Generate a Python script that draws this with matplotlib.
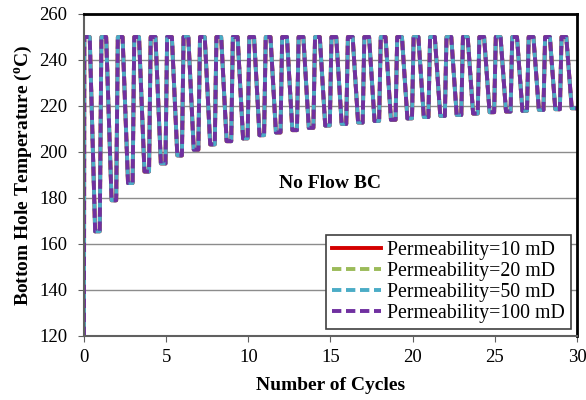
import numpy as np
import matplotlib
matplotlib.use("Agg")
import matplotlib.pyplot as plt

# values
n_cycles = 30
start_temp = 120.0
peak_temp = 250.0
# minimum bottom hole temperature reached at the end of each cycle (1..30)
cycle_minima = [165.5, 179.0, 186.5, 191.5, 195.0, 198.5, 201.0, 203.3, 204.7, 205.9,
                207.3, 208.5, 209.5, 210.5, 211.5, 212.2, 212.8, 213.5, 214.0, 214.6,
                215.2, 215.7, 216.1, 216.7, 217.3, 217.6, 217.9, 218.3, 218.6, 219.0]
labels = ["Permeability=10 mD", "Permeability=20 mD",
          "Permeability=50 mD", "Permeability=100 mD"]
colors = ["#D40000", "#9BBB59", "#4BACC6", "#7030A0"]

# shape of one cycle: (phase, 'top' or 'bottom')
profile = [(0.06, "top"), (0.35, "top"), (0.68, "bottom"), (0.96, "bottom")]


def build_curve():
    t = [0.0, 0.02]
    T = [start_temp, peak_temp]
    for n, m in enumerate(cycle_minima):
        for ph, kind in profile:
            t.append(n + ph)
            T.append(peak_temp if kind == "top" else m)
    t.append(n_cycles)
    T.append(cycle_minima[-1])
    return np.array(t), np.array(T)


plt.rcParams['font.family'] = ['Liberation Serif', 'DejaVu Serif']
plt.rcParams['mathtext.fontset'] = 'custom'
plt.rcParams['mathtext.rm'] = 'Liberation Serif'
plt.rcParams['mathtext.bf'] = 'Liberation Serif:bold'

fig = plt.figure(figsize=(5.86, 4.0), dpi=100)
ax = fig.add_axes([0.1433, 0.16, 0.8413, 0.805])

t, T = build_curve()
styles = [dict(linestyle='-'),
          dict(linestyle=(0.0, (2.4, 1.2))),
          dict(linestyle=(1.8, (2.4, 1.2))),
          dict(linestyle=(0.0, (2.4, 1.2)))]
for lab, col, st in zip(labels, colors, styles):
    ax.plot(t, T, color=col, linewidth=2.8, label=lab,
            solid_joinstyle='round', dash_joinstyle='round',
            dash_capstyle='butt', **st)

ax.set_xlim(0, 30)
ax.set_ylim(120, 260)
ax.set_xticks(np.arange(0, 31, 5))
ax.set_yticks(np.arange(120, 261, 20))
ax.yaxis.grid(True, color='#8C8C8C', linewidth=1.0)
ax.set_axisbelow(True)
ax.tick_params(direction='out', labelsize=13.5, length=4, color='#606060')
ax.tick_params(axis='y', pad=8)
ax.tick_params(axis='x', pad=5)

for s in ['left', 'bottom']:
    ax.spines[s].set_color('#606060')
    ax.spines[s].set_linewidth(1.5)
for s in ['top', 'right']:
    ax.spines[s].set_color('black')
    ax.spines[s].set_linewidth(2.0)

ax.set_xlabel("Number of Cycles", fontsize=14, fontweight='bold', labelpad=8)
ax.set_ylabel(r"Bottom Hole Temperature ($^{\mathbf{o}}$C)", fontsize=14,
              fontweight='bold', labelpad=3)

ax.text(15, 186.5, "No Flow BC", fontsize=14, fontweight='bold',
        ha='center', va='center')

leg = ax.legend(loc='lower right', bbox_to_anchor=(0.988, 0.022), borderaxespad=0,
                fontsize=14.3, fancybox=False, edgecolor='#404040', framealpha=1,
                labelspacing=0.1, borderpad=0.3, handlelength=2.5, handletextpad=0.3)
leg.get_frame().set_linewidth(1.2)
# plain dashes in the legend keys
for line in leg.get_lines()[1:]:
    line.set_linestyle((0, (2.4, 1.2)))

fig.savefig("out.png", dpi=100)
